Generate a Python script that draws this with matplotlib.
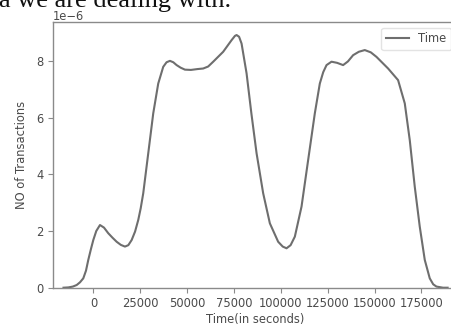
import numpy as np
import matplotlib
matplotlib.use("Agg")
import matplotlib.pyplot as plt

# density estimate of transaction times (seconds), values in units of 1e-6
time_s = [-16000, -13400, -11000, -8960, -7200, -5440, -4000, -2770, -1400, -100,
          1500, 3470, 5600, 7900, 10200, 12370, 14600, 16800, 18600, 20370,
          22200, 23900, 25200, 26560, 29230, 31900, 34560, 37230, 39000, 40800,
          42600, 44370, 46500, 48800, 52000, 55500, 58560, 61200, 63900, 69220,
          73700, 75500, 76370, 77700, 79030, 81700, 84260, 87040, 90560, 94130,
          98560, 101000, 103030, 105200, 107460, 111030, 114560, 118130, 120790, 122600,
          124370, 127030, 130000, 133230, 135800, 138560, 141600, 144790, 148000, 151030,
          157230, 162560, 166130, 168800, 171460, 174130, 176800, 179460, 181300, 183030,
          186560, 189000]
density_e6 = [0.0, 0.01, 0.04, 0.095, 0.19, 0.33, 0.6, 0.98, 1.35, 1.68,
              2.0, 2.21, 2.12, 1.92, 1.76, 1.62, 1.51, 1.45, 1.5, 1.68,
              1.98, 2.39, 2.8, 3.33, 4.74, 6.15, 7.2, 7.79, 7.95, 8.0,
              7.95, 7.85, 7.76, 7.69, 7.68, 7.71, 7.73, 7.8, 7.97, 8.32,
              8.73, 8.88, 8.91, 8.85, 8.61, 7.56, 6.15, 4.74, 3.33, 2.27,
              1.62, 1.45, 1.39, 1.5, 1.8, 2.86, 4.5, 6.15, 7.2, 7.6,
              7.85, 7.97, 7.93, 7.85, 7.98, 8.2, 8.32, 8.38, 8.3, 8.14,
              7.73, 7.32, 6.5, 5.2, 3.56, 2.15, 0.98, 0.33, 0.12, 0.04,
              0.0, 0.0]

x_ticks = [0, 25000, 50000, 75000, 100000, 125000, 150000, 175000]
y_ticks = [0, 2e-6, 4e-6, 6e-6, 8e-6]

TEXT = "#4a4a4a"
EDGE = "#8a8a8a"

fig = plt.figure(figsize=(4.52, 3.27), dpi=100)
fig.patch.set_facecolor("white")

# sentence from the surrounding page, cut off at the top
fig.text(-0.002, 1 - 6.5 / 327, "a we are dealing with.", fontsize=19,
         family="Liberation Serif", color="#111111", va="baseline", ha="left")

ax = fig.add_axes([53 / 452, 1 - 287.7 / 327, 404 / 452, (287.7 - 22) / 327])

density = np.array(density_e6) * 1e-6
ax.plot(time_s, density, color="#6e6e6e", lw=1.5, label="Time")

ax.set_xlim(-21600, 194000)
ax.set_ylim(0, 9.37e-6)
ax.set_xticks(x_ticks)
ax.set_yticks(y_ticks)
ax.set_yticklabels([f"{v * 1e6:g}" for v in y_ticks])

# scale factor sits tight above the top spine
ax.text(0, 1.006, "1e\u22126", transform=ax.transAxes, fontsize=8.3,
        color=TEXT, ha="left", va="baseline")

ax.tick_params(labelsize=8.3, colors=EDGE, labelcolor=TEXT, length=3.5, width=0.8)
for sp in ax.spines.values():
    sp.set_color(EDGE)
    sp.set_linewidth(1.0)

ax.set_xlabel("Time(in seconds)", fontsize=8.3, color=TEXT, labelpad=2)
ax.set_ylabel("NO of Transactions", fontsize=8.3, color=TEXT, labelpad=6)

leg = ax.legend(loc="upper right", fontsize=8.3, frameon=True)
leg.get_frame().set_edgecolor("#dddddd")
for t in leg.get_texts():
    t.set_color(TEXT)

fig.savefig("out.png", dpi=100)
